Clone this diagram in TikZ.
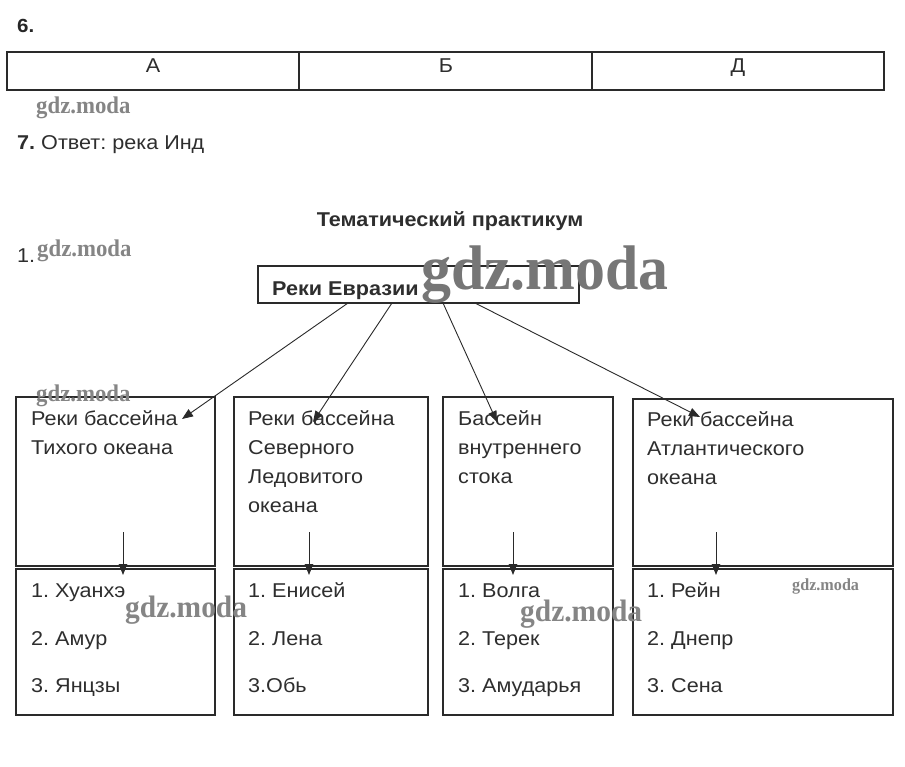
\documentclass[tikz,border=0pt]{standalone}
\usepackage{fontspec}
\setmainfont[FakeStretch=1.08]{Liberation Sans}
\newfontfamily\wmfont[FakeStretch=0.95]{Liberation Serif}
\usetikzlibrary{arrows.meta}
\definecolor{ink}{HTML}{2A2A2A}
\definecolor{txt}{HTML}{2E2E2E}
\definecolor{wm}{HTML}{858585}
\definecolor{wmdark}{HTML}{767676}
\begin{document}
\frenchspacing
\begin{tikzpicture}[x=1pt,y=-1pt,
  font=\fontsize{20}{24}\selectfont, text=txt,
  box/.style={draw=ink, line width=1.05pt, inner sep=0pt, outer sep=0pt, anchor=north west},
  lbl/.style={anchor=base west, inner sep=0pt},
  clbl/.style={anchor=base, inner sep=0pt},
  arr/.style={draw=ink, line width=0.9pt, -{Triangle[length=11pt,width=8.5pt]}},
  wmk/.style={font=\wmfont\bfseries, text=wm, anchor=base west, inner sep=0pt}]
\useasboundingbox (0,0) rectangle (905,766);
\fill[white] (0,0) rectangle (905,766);

% task 6
\node[lbl, font=\bfseries\fontsize{19}{24}\selectfont, text=black!85] (n6) at (17,32) {6.};
\node[box, minimum width=292pt, minimum height=38pt] (cA) at (7,52) {};
\node[box, minimum width=293pt, minimum height=38pt] (cB) at (299,52) {};
\node[box, minimum width=292pt, minimum height=38pt] (cD) at (592,52) {};
\node[clbl] (tA) at (153,72) {А};
\node[clbl] (tB) at (446,72) {Б};
\node[clbl] (tD) at (738,72) {Д};
\node[wmk, font=\wmfont\bfseries\fontsize{24}{26}\selectfont] (w1) at (36,113) {gdz.moda};

% task 7
\node[lbl] (n7) at (17,149) {{\bfseries 7.} Ответ: река Инд};

% heading
\node[clbl, font=\bfseries\fontsize{20}{24}\selectfont] (head) at (450,226) {Тематический практикум};
\node[lbl] (n1) at (17,262) {1.};
\node[wmk, font=\wmfont\bfseries\fontsize{24}{26}\selectfont] (w2) at (37,256) {gdz.moda};

% root
\node[box, minimum width=321pt, minimum height=37pt] (eur) at (258,266) {};
\node[lbl, font=\bfseries\fontsize{20}{24}\selectfont] (eurt) at (272,295) {Реки Евразии};

% upper boxes
\node[box, minimum width=199pt, minimum height=169pt] (u1) at (16,397) {};
\node[box, minimum width=194pt, minimum height=169pt] (u2) at (234,397) {};
\node[box, minimum width=170pt, minimum height=169pt] (u3) at (443,397) {};
\node[box, minimum width=260pt, minimum height=167pt] (u4) at (633,399) {};

% lower boxes
\node[box, minimum width=199pt, minimum height=146pt] (l1) at (16,569) {};
\node[box, minimum width=194pt, minimum height=146pt] (l2) at (234,569) {};
\node[box, minimum width=170pt, minimum height=146pt] (l3) at (443,569) {};
\node[box, minimum width=260pt, minimum height=146pt] (l4) at (633,569) {};

% upper texts
\node[lbl] at (31,425) {Реки бассейна};
\node[lbl] at (31,454) {Тихого океана};
\node[lbl] at (248,425) {Реки бассейна};
\node[lbl] at (248,454) {Северного};
\node[lbl] at (248,483) {Ледовитого};
\node[lbl] at (248,512) {океана};
\node[lbl] at (458,425) {Бассейн};
\node[lbl] at (458,454) {внутреннего};
\node[lbl] at (458,483) {стока};
\node[lbl] at (647,426) {Реки бассейна};
\node[lbl] at (647,455) {Атлантического};
\node[lbl] at (647,484) {океана};

% lower texts
\node[lbl] at (31,597) {1. Хуанхэ};
\node[lbl] at (31,645) {2. Амур};
\node[lbl] at (31,692) {3. Янцзы};
\node[lbl] at (248,597) {1. Енисей};
\node[lbl] at (248,645) {2. Лена};
\node[lbl] at (248,692) {3.Обь};
\node[lbl] at (458,597) {1. Волга};
\node[lbl] at (458,645) {2. Терек};
\node[lbl] at (458,692) {3. Амударья};
\node[lbl] at (647,597) {1. Рейн};
\node[lbl] at (647,645) {2. Днепр};
\node[lbl] at (647,692) {3. Сена};

% connectors from root
\coordinate (s1) at (348,303);
\coordinate (s2) at (392,303);
\coordinate (s3) at (443,303);
\coordinate (s4) at (475,303);
\coordinate (e1) at (182,419);
\coordinate (e2) at (313,422);
\coordinate (e3) at (497,422);
\coordinate (e4) at (700,417);
\draw[arr] (s1) -- (e1);
\draw[arr] (s2) -- (e2);
\draw[arr] (s3) -- (e3);
\draw[arr] (s4) -- (e4);

% vertical connectors
\foreach \x/\i in {123/1,309/2,513/3,716/4}{
  \coordinate (v\i a) at (\x,532);
  \coordinate (v\i b) at (\x,575);
  \draw[arr] (v\i a) -- (v\i b);
}

% watermarks
\node[wmk, font=\wmfont\bfseries\fontsize{24}{26}\selectfont] (w3) at (36,401) {gdz.moda};
\node[wmk, font=\wmfont\bfseries\fontsize{31}{34}\selectfont] (w4) at (125,617) {gdz.moda};
\node[wmk, font=\wmfont\bfseries\fontsize{31}{34}\selectfont] (w5) at (520,621) {gdz.moda};
\node[wmk, font=\wmfont\bfseries\fontsize{17}{18}\selectfont] (w6) at (792,590) {gdz.moda};
\node[wmk, font=\wmfont\bfseries\fontsize{63}{66}\selectfont, text=wmdark] (w7) at (421,289) {gdz.moda};
\end{tikzpicture}
\end{document}
